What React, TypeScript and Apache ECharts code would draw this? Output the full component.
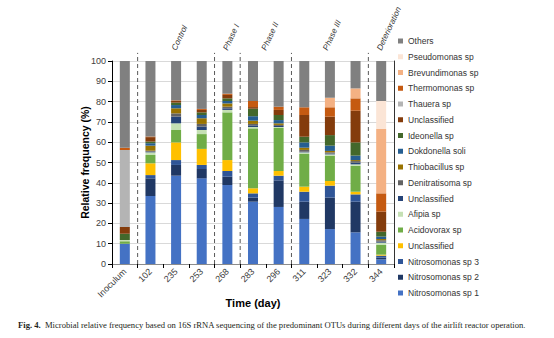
import React, { useEffect, useRef } from "react";
import * as echarts from "echarts";

const categories = ["Inoculum", "102", "235", "253", "268", "283", "296", "311", "323", "332", "344"];

const seriesNames = [
  "Nitrosomonas sp 1",
  "Nitrosomonas sp 2",
  "Nitrosomonas sp 3",
  "Unclassified",
  "Acidovorax sp",
  "Afipia sp",
  "Unclassified ",
  "Denitratisoma sp",
  "Thiobacillus sp",
  "Dokdonella soli",
  "Ideonella sp",
  "Unclassified  ",
  "Thauera sp",
  "Thermomonas sp",
  "Brevundimonas sp",
  "Pseudomonas sp",
  "Others",
];

const seriesColors = [
  "#4472C4", "#203864", "#2F5597", "#FFC000", "#70AD47", "#C5E0B4", "#264478",
  "#636363", "#997300", "#255E91", "#43682B", "#843C0C", "#B4B4B4", "#C55A11",
  "#F4B183", "#FBE5D6", "#808080",
];

const nitrosomonas1 = [10.0, 33.5, 43.5, 42.2, 38.9, 30.7, 28.1, 22.2, 17.2, 15.6, 2.3];
const nitrosomonas2 = [0, 8.7, 5.3, 4.6, 4.1, 2.0, 13.1, 8.5, 15.5, 15.1, 0.8];
const nitrosomonas3 = [0, 1.6, 2.4, 2.0, 2.8, 2.1, 2.3, 4.9, 5.9, 3.6, 1.0];
const unclassifiedA = [0, 5.8, 8.7, 7.9, 5.4, 2.5, 2.3, 2.5, 2.3, 1.3, 0.5];
const acidovorax = [1.2, 4.1, 6.1, 7.3, 23.5, 29.5, 21.2, 16.1, 12.3, 12.8, 4.8];
const afipia = [0.6, 1.3, 3.3, 2.0, 1.2, 0.7, 0.5, 0.8, 0.8, 0.7, 1.1];
const unclassifiedB = [0, 0.3, 3.3, 1.7, 0.8, 0.8, 0.5, 0.3, 0.4, 0.8, 0.5];
const denitratisoma = [0, 0.5, 1.6, 1.3, 0.8, 0.7, 0.5, 0.9, 0.6, 0.8, 0.7];
const thiobacillus = [0, 2.5, 2.5, 2.8, 1.6, 1.6, 0.8, 1.1, 0.7, 0.5, 0.6];
const dokdonella = [0, 1.2, 1.6, 1.6, 1.2, 2.2, 1.6, 2.6, 2.6, 2.2, 1.2];
const ideonella = [3.1, 0.8, 1.2, 1.3, 1.3, 3.7, 2.5, 2.8, 5.2, 6.5, 2.4];
const unclassifiedC = [3.3, 2.2, 0.8, 1.2, 1.7, 0.8, 2.5, 10.7, 9.1, 15.6, 9.9];
const thauera = [38.0, 0, 0, 0, 0, 0, 0, 0, 0, 0, 0];
const thermomonas = [1.1, 0.3, 0.3, 0.5, 0.6, 3.0, 1.6, 3.8, 4.6, 6.1, 9.0];
const brevundimonas = [0, 0, 0, 0, 0, 0, 0, 0, 4.7, 4.9, 31.7];
const pseudomonas = [0, 0, 0, 0, 0, 0, 0, 0, 0, 0, 13.8];
const others = [42.7, 37.2, 19.4, 23.6, 16.1, 19.7, 22.5, 22.8, 18.1, 13.5, 19.7];

const seriesValues = [
  nitrosomonas1, nitrosomonas2, nitrosomonas3, unclassifiedA, acidovorax, afipia,
  unclassifiedB, denitratisoma, thiobacillus, dokdonella, ideonella, unclassifiedC,
  thauera, thermomonas, brevundimonas, pseudomonas, others,
];

// phase separators (category boundaries) and phase labels (positions in category units)
const separatorPositions = [1, 4, 5, 7, 10];
const phaseLabels = ["Control", "Phase I", "Phase II", "Phase III", "Deterioration"];
const phaseLabelPositions = [2.5, 4.5, 6.0, 8.4, 10.5];
const yTicks = { min: 0, max: 100, interval: 10 };

const FONT = 'Arial, "Liberation Sans", sans-serif';
const SERIF = '"Liberation Serif", "Times New Roman", serif';

export default function App() {
  const ref = useRef<HTMLDivElement>(null);

  useEffect(() => {
    if (!ref.current) return;
    document.body.style.margin = "0";
    const chart = echarts.init(ref.current, null, { renderer: "svg" });

    const bars = seriesNames.map((name, i) => ({
      name,
      type: "bar",
      stack: "total",
      barWidth: 10,
      xAxisIndex: 0,
      yAxisIndex: 0,
      itemStyle: { color: seriesColors[i] },
      data: seriesValues[i],
    }));

    const option: any = {
      animation: false,
      textStyle: { fontFamily: FONT },
      grid: { left: 112, right: 160, top: 61, bottom: 74, containLabel: false },
      legend: {
        orient: "vertical",
        left: 393,
        top: 31,
        icon: "rect",
        itemWidth: 5,
        itemHeight: 5,
        itemGap: 5.75,
        data: [...seriesNames].reverse(),
        textStyle: { fontSize: 8.5, color: "#333", fontFamily: FONT, lineHeight: 10 },
        selectedMode: false,
      },
      xAxis: [
        {
          type: "category",
          data: categories,
          position: "bottom",
          name: "Time (day)",
          nameLocation: "middle",
          nameGap: 33,
          nameMoveOverlap: false,
          nameTextStyle: { fontSize: 11, fontWeight: "bold", color: "#000", fontFamily: FONT },
          axisLine: { lineStyle: { color: "#000", width: 1 } },
          axisTick: { show: true, interval: 0, length: 4, lineStyle: { color: "#000" } },
          axisLabel: { rotate: 45, fontSize: 9, color: "#404040", margin: 6, interval: 0, fontFamily: FONT },
        },
        {
          type: "category",
          data: categories,
          position: "top",
          axisLine: { show: true, lineStyle: { color: "#8c8c8c", width: 1 } },
          axisTick: { show: false },
          axisLabel: { show: false },
        },
        {
          type: "value",
          min: 0,
          max: categories.length,
          show: false,
        },
      ],
      yAxis: [
        {
          type: "value",
          min: yTicks.min,
          max: yTicks.max,
          interval: yTicks.interval,
          name: "Relative frequency (%)",
          nameLocation: "middle",
          nameGap: 22,
          nameMoveOverlap: false,
          nameTextStyle: { fontSize: 10.5, fontWeight: "bold", color: "#000", fontFamily: FONT },
          axisLine: { show: true, lineStyle: { color: "#000", width: 1 } },
          axisTick: { show: true, length: 4, lineStyle: { color: "#000" } },
          axisLabel: { fontSize: 9, color: "#404040", margin: 6, fontFamily: FONT },
          splitLine: { show: true, lineStyle: { color: "#d9d9d9", width: 1 } },
        },
        {
          type: "value",
          min: yTicks.min,
          max: yTicks.max,
          position: "right",
          axisLine: { show: true, lineStyle: { color: "#333", width: 1 } },
          axisTick: { show: false },
          axisLabel: { show: false },
          splitLine: { show: false },
        },
      ],
      series: [
        ...bars,
        {
          type: "custom",
          xAxisIndex: 2,
          yAxisIndex: 0,
          clip: false,
          silent: true,
          z: 5,
          data: separatorPositions.map((p) => [p, 0]),
          renderItem: (params: any, api: any) => {
            const x = api.value(0);
            const p1 = api.coord([x, 0]);
            const p2 = api.coord([x, 104]);
            return {
              type: "line",
              shape: { x1: p1[0], y1: p1[1], x2: p2[0], y2: p2[1] },
              style: { stroke: "#595959", lineWidth: 1, lineDash: [4, 3] },
            };
          },
        },
        {
          type: "custom",
          xAxisIndex: 2,
          yAxisIndex: 0,
          clip: false,
          silent: true,
          z: 5,
          data: phaseLabelPositions.map((p) => [p, 105.5]),
          renderItem: (params: any, api: any) => {
            const pt = api.coord([api.value(0), api.value(1)]);
            return {
              type: "text",
              x: pt[0] - 2,
              y: pt[1],
              rotation: (65 * Math.PI) / 180,
              style: {
                text: phaseLabels[params.dataIndex],
                x: 0,
                y: 0,
                align: "left",
                verticalAlign: "middle",
                fill: "#333",
                font: `italic 8.2px ${FONT}`,
              },
            };
          },
        },
      ],
      graphic: [
        {
          type: "text",
          left: 18,
          top: 320,
          style: {
            text: "{b|Fig. 4.}  Microbial relative frequency based on 16S rRNA sequencing of the predominant OTUs during different days of the airlift reactor operation.",
            font: `8.6px ${SERIF}`,
            fill: "#231f20",
            rich: {
              b: { fontWeight: "bold", fontSize: 8.6, fontFamily: SERIF, fill: "#231f20" },
            },
          },
        },
      ],
    };

    chart.setOption(option);
    return () => chart.dispose();
  }, []);

  return <div ref={ref} style={{ width: 554, height: 338 }} />;
}
